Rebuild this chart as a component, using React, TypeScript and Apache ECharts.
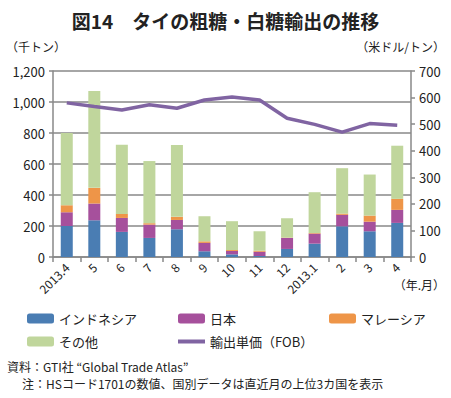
import React, { useEffect, useRef } from "react";
import * as echarts from "echarts";

const categories = ["2013.4", "5", "6", "7", "8", "9", "10", "11", "12", "2013.1", "2", "3", "4"];
const indonesia = [200, 237, 162, 123, 179, 37, 17, 6, 52, 86, 198, 166, 220];
const japan = [89, 108, 90, 86, 60, 54, 22, 28, 71, 65, 74, 62, 84];
const malaysia = [45, 101, 26, 9, 20, 10, 6, 7, 2, 4, 8, 39, 71];
const others = [466, 625, 446, 401, 463, 162, 186, 125, 125, 263, 293, 265, 343];
const fobPrice = [580, 566, 553, 573, 560, 591, 602, 591, 522, 499, 470, 502, 496];

const FONT = "'Noto Sans CJK JP', 'Noto Sans', sans-serif";
const C_BLUE = "#4A7DB3";
const C_MAG = "#A6509C";
const C_ORANGE = "#EE9548";
const C_GREEN = "#C0D69C";
const C_LINE = "#8064A2";

export default function App() {
  const ref = useRef<HTMLDivElement>(null);
  useEffect(() => {
    document.body.style.margin = "0";
    const chart = echarts.init(ref.current!, null, { renderer: "svg" });
    const legendBase = (name: string, left: number, top: number) => ({
      data: [name],
      left,
      top,
      itemWidth: 27,
      itemHeight: 10,
      itemGap: 4,
      textStyle: { fontFamily: FONT, fontSize: 13, color: "#222" },
      selectedMode: false,
    });
    chart.setOption({
      animation: false,
      textStyle: { fontFamily: FONT },
      title: {
        text: "図14　タイの粗糖・白糖輸出の推移",
        left: "center",
        top: 6,
        textStyle: { fontFamily: FONT, fontSize: 19, fontWeight: "bold", color: "#222" },
      },
      grid: { left: 53, right: 40, top: 71, bottom: 141, containLabel: false },
      legend: [
        legendBase("インドネシア", 22, 307),
        legendBase("日本", 173, 307),
        legendBase("マレーシア", 324, 307),
        legendBase("その他", 22, 330),
        {
          ...legendBase("輸出単価（FOB）", 173, 330),
          data: [{ name: "輸出単価（FOB）", icon: "rect" }],
          itemHeight: 4,
          itemStyle: { color: C_LINE },
        },
      ],
      xAxis: {
        type: "category",
        data: categories,
        axisLine: { lineStyle: { color: "#888", width: 1.5 } },
        axisTick: { show: true, interval: 0, length: 5, lineStyle: { color: "#888", width: 1.5 } },
        axisLabel: { rotate: 45, interval: 0, fontSize: 12, color: "#222", margin: 8, fontFamily: FONT },
      },
      yAxis: [
        {
          type: "value",
          min: 0,
          max: 1200,
          interval: 200,
          axisLine: { show: true, lineStyle: { color: "#888", width: 1.5 } },
          axisTick: { show: true, length: 4, lineStyle: { color: "#888", width: 1.5 } },
          splitLine: { lineStyle: { color: "#888", width: 1.5 } },
          axisLabel: {
            fontSize: 13,
            color: "#222",
            fontFamily: FONT,
            formatter: (v: number) => v.toLocaleString("en-US"),
          },
        },
        {
          type: "value",
          min: 0,
          max: 700,
          interval: 100,
          axisLine: { show: true, lineStyle: { color: "#888", width: 1.5 } },
          axisTick: { show: true, length: 4, lineStyle: { color: "#888", width: 1.5 } },
          splitLine: { show: false },
          axisLabel: { fontSize: 13, color: "#222", fontFamily: FONT },
        },
      ],
      series: [
        { name: "インドネシア", type: "bar", stack: "s", data: indonesia, barWidth: 12, itemStyle: { color: C_BLUE } },
        { name: "日本", type: "bar", stack: "s", data: japan, barWidth: 12, itemStyle: { color: C_MAG } },
        { name: "マレーシア", type: "bar", stack: "s", data: malaysia, barWidth: 12, itemStyle: { color: C_ORANGE } },
        { name: "その他", type: "bar", stack: "s", data: others, barWidth: 12, itemStyle: { color: C_GREEN } },
        {
          name: "輸出単価（FOB）",
          type: "line",
          yAxisIndex: 1,
          data: fobPrice,
          showSymbol: false,
          symbol: "none",
          lineStyle: { color: C_LINE, width: 3.5 },
          itemStyle: { color: C_LINE },
        },
      ],
      graphic: [
        { type: "text", left: 6, top: 40, style: { text: "（千トン）", fontFamily: FONT, fontSize: 12, fill: "#222" } },
        { type: "text", right: 6, top: 40, style: { text: "（米ドル/トン）", fontFamily: FONT, fontSize: 12, fill: "#222" } },
        { type: "text", right: 6, top: 278, style: { text: "（年.月）", fontFamily: FONT, fontSize: 12, fill: "#222" } },
        { type: "text", left: 7, top: 360, style: { text: "資料：GTI社 “Global Trade Atlas”", fontFamily: FONT, fontSize: 12, fill: "#222" } },
        { type: "text", left: 22, top: 377, style: { text: "注：HSコード1701の数値、国別データは直近月の上位3カ国を表示", fontFamily: FONT, fontSize: 12, fill: "#222" } },
      ],
    });
    return () => chart.dispose();
  }, []);
  return <div ref={ref} style={{ width: 451, height: 398 }} />;
}
